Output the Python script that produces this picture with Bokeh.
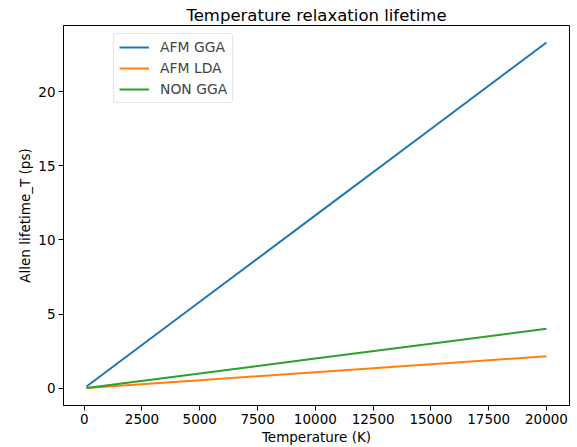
from bokeh.plotting import figure
from bokeh.models import Range1d, FixedTicker, Legend, LegendItem
from bokeh.embed import file_html
from bokeh.resources import INLINE

temperature = [100, 5000, 10000, 15000, 20000]
afm_gga = [0.12, 5.83, 11.66, 17.49, 23.32]
afm_lda = [0.01, 0.54, 1.08, 1.62, 2.16]
non_gga = [0.02, 1.0, 2.0, 3.0, 4.02]

x_ticks = [0, 2500, 5000, 7500, 10000, 12500, 15000, 17500, 20000]
y_ticks = [0, 5, 10, 15, 20]

FONT = "DejaVu Sans"
TICK_SIZE = "13.5px"

p = figure(width=571, height=447, output_backend="svg", toolbar_location=None,
           x_range=Range1d(-895, 20995), y_range=Range1d(-1.165, 24.47),
           min_border_left=63, min_border_right=2, min_border_top=25, min_border_bottom=42)

p.title.text = "Temperature relaxation lifetime"
p.title.align = "center"
p.title.text_font = FONT
p.title.text_font_size = "16.5px"
p.title.text_font_style = "normal"
p.title.text_color = "black"
p.title.standoff = 2
p.title.offset = 0

r1 = p.line(temperature, afm_gga, line_color="#1f77b4", line_width=2)
r2 = p.line(temperature, afm_lda, line_color="#ff7f0e", line_width=2)
r3 = p.line(temperature, non_gga, line_color="#2ca02c", line_width=2)

p.xgrid.visible = False
p.ygrid.visible = False
p.outline_line_color = "black"
p.outline_line_width = 1
p.outline_line_alpha = 1

p.xaxis.ticker = FixedTicker(ticks=x_ticks)
p.yaxis.ticker = FixedTicker(ticks=y_ticks)
p.xaxis.axis_label = "Temperature (K)"
p.yaxis.axis_label = "Allen lifetime_T (ps)"
for ax in (p.xaxis, p.yaxis):
    ax.axis_label_text_font = FONT
    ax.axis_label_text_font_size = TICK_SIZE
    ax.axis_label_text_font_style = "normal"
    ax.axis_label_text_color = "black"
    ax.major_label_text_font = FONT
    ax.major_label_text_font_size = TICK_SIZE
    ax.major_label_text_color = "black"
    ax.major_tick_in = 0
    ax.major_tick_out = 5
    ax.minor_tick_in = 0
    ax.minor_tick_out = 0
    ax.axis_line_color = "black"
    ax.major_tick_line_color = "black"
    ax.major_label_standoff = 3
    ax.axis_label_standoff = 2

# frame is 380 px tall; legend ~68 px tall, top 10 px below the frame top
legend = Legend(items=[LegendItem(label="AFM GGA", renderers=[r1]),
                       LegendItem(label="AFM LDA", renderers=[r2]),
                       LegendItem(label="NON GGA", renderers=[r3])],
                location=(50, 302))
legend.label_text_font = FONT
legend.label_text_font_size = "13.9px"
legend.glyph_width = 30
legend.glyph_height = 16
legend.label_height = 16
legend.spacing = 5
legend.padding = 5
legend.label_standoff = 11
legend.border_line_color = "#cccccc"
legend.border_line_width = 1
legend.border_radius = 3
legend.background_fill_alpha = 0.8
legend.margin = 0
p.add_layout(legend, "center")

open("out.html", "w").write(file_html(p, INLINE))
